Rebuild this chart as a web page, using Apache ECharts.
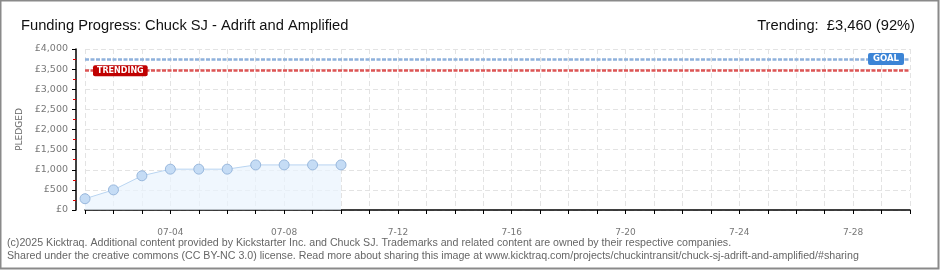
<!DOCTYPE html>
<html><head><meta charset="utf-8">
<script src="https://cdn.jsdelivr.net/npm/echarts@6/dist/echarts.min.js"></script>
<style>html,body{margin:0;padding:0;background:#fff}#c{width:940px;height:270px}</style>
</head><body><div id="c"></div>
<script>
const categories = ["07-01","07-02","07-03","07-04","07-05","07-06","07-07","07-08","07-09","7-10","7-11","7-12","7-13","7-14","7-15","7-16","7-17","7-18","7-19","7-20","7-21","7-22","7-23","7-24","7-25","7-26","7-27","7-28","7-29","7-30"];
const pledged = [280, 500, 850, 1015, 1015, 1015, 1120, 1120, 1120, 1120];
const goal = 3750;
const trending = 3460;
const yTicks = [0, 4000, 500];
const titleText = "Funding Progress: Chuck SJ - Adrift and Amplified";
const trendText = "Trending:  £3,460 (92%)";
const footer1 = "(c)2025 Kicktraq. Additional content provided by Kickstarter Inc. and Chuck SJ. Trademarks and related content are owned by their respective companies.";
const footer2 = "Shared under the creative commons (CC BY-NC 3.0) license. Read more about sharing this image at www.kicktraq.com/projects/chuckintransit/chuck-sj-adrift-and-amplified/#sharing";

const chart = echarts.init(document.getElementById('c'), null, {renderer:'canvas'});
const titleFont = '"Liberation Sans",sans-serif';
const tickFont = '"DejaVu Sans",sans-serif';
chart.setOption({
  animation:false,
  title:[
    {text:titleText,left:16,top:13,textStyle:{fontFamily:titleFont,fontSize:14.7,fontWeight:'normal',color:'#111'}},
    {text:trendText,right:20,top:13,textStyle:{fontFamily:titleFont,fontSize:14.7,fontWeight:'normal',color:'#111'}}
  ],
  graphic:[
    {type:'rect',shape:{x:0.5,y:0.5,width:938,height:268},style:{fill:'none',stroke:'#8a8a8a',lineWidth:2}},
    {type:'text',left:7,top:238,style:{text:footer1,fontFamily:titleFont,fontSize:10.65,fill:'#666'}},
    {type:'text',left:7,top:251,style:{text:footer2,fontFamily:titleFont,fontSize:10.65,fill:'#666'}}
  ],
  grid:{left:85,right:30,top:49,bottom:60,containLabel:false},
  xAxis:{
    type:'category',data:categories,boundaryGap:false,offset:10,
    axisLine:{lineStyle:{color:'#000',width:1.5}},
    axisTick:{show:true,interval:0,length:4,lineStyle:{color:'#000'}},
    axisLabel:{interval:(i)=>i%4===3,color:'#777',fontFamily:tickFont,fontSize:9,margin:8},
    splitLine:{show:true,interval:0,lineStyle:{color:'#e3e3e3',type:[5,3]}}
  },
  yAxis:{
    type:'value',min:yTicks[0],max:yTicks[1],interval:yTicks[2],offset:9,
    name:'PLEDGED',nameLocation:'middle',nameGap:49,nameRotate:90,
    nameTextStyle:{color:'#666',fontFamily:tickFont,fontSize:9},
    axisLine:{show:true,lineStyle:{color:'#000',width:1.5}},
    axisTick:{show:true,length:4,lineStyle:{color:'#000'}},
    minorTick:{show:true,splitNumber:2,length:3,lineStyle:{color:'#e00000'}},
    axisLabel:{color:'#777',fontFamily:tickFont,fontSize:9.5,margin:8,formatter:(v)=>'£'+v.toLocaleString('en-US')},
    splitLine:{show:true,lineStyle:{color:'#e3e3e3',type:[5,3]}}
  },
  series:[{
    type:'line',data:pledged,symbol:'circle',symbolSize:10,
    lineStyle:{color:'#b8d4f1',width:1},
    itemStyle:{color:'#c5dcf5',borderColor:'#98b7dc',borderWidth:1},
    areaStyle:{color:'#eaf3fd'},
    markLine:{
      silent:true,symbol:'none',
      data:[
        {yAxis:goal,lineStyle:{color:'#8fb1dc',width:2.5,type:[4,1.5]},
         label:{show:true,position:'insideEnd',formatter:'GOAL',distance:[6,0],color:'#fff',backgroundColor:'#3b84d6',padding:[2,5,1,5],borderRadius:2,fontFamily:tickFont,fontSize:8.5,fontWeight:'bold'}},
        {yAxis:trending,lineStyle:{color:'#dd5555',width:2.5,type:[4,1.5]},
         label:{show:true,position:'insideStart',formatter:'TRENDING',distance:[8,0],color:'#fff',backgroundColor:'#c00000',padding:[2,4,1,4],borderRadius:2,fontFamily:tickFont,fontSize:8,fontWeight:'bold'}}
      ]
    }
  }]
});
</script></body></html>
